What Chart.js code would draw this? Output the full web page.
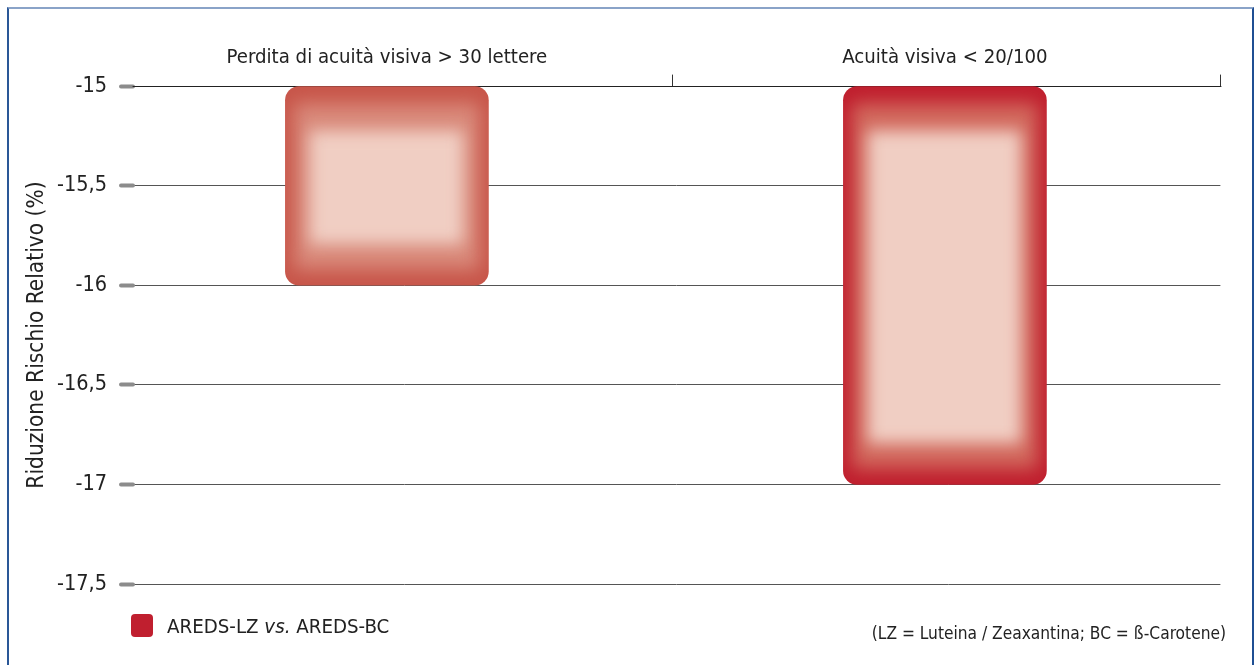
<!DOCTYPE html>
<html>
<head>
<meta charset="utf-8">
<script src="https://cdn.jsdelivr.net/npm/chart.js@4/dist/chart.umd.min.js"></script>
<style>
  html, body { margin: 0; padding: 0; background: #fff; }
  #wrap { position: relative; width: 1255px; height: 665px; overflow: hidden; background: #fff; }
  #frame { position: absolute; left: 7px; top: 7px; width: 1247px; height: 700px; box-sizing: border-box;
           border-left: 2px solid #2a5797; border-right: 2px solid #1f4f93; border-top: 2px solid #8aa3c8; }
  #cv { position: absolute; left: 0; top: 0; }
  .txt { position: absolute; font-family: 'DejaVu Sans Condensed', 'Liberation Sans Narrow', sans-serif; color: #222; white-space: nowrap; }
  #legbox { position: absolute; left: 131px; top: 614px; width: 22px; height: 23px; border-radius: 4px; background: #c01f2f; }
  #legtxt { left: 167px; top: 613px; font-size: 20.3px; line-height: 26px; }
  #note { right: 29px; top: 621px; font-size: 17.2px; line-height: 24px; }
</style>
</head>
<body>
<div id="wrap">
  <div id="frame"></div>
  <canvas id="cv" width="1255" height="665"></canvas>
  <div id="legbox"></div>
  <div id="legtxt" class="txt">AREDS-LZ <i>vs.</i> AREDS-BC</div>
  <div id="note" class="txt">(LZ = Luteina / Zeaxantina; BC = ß-Carotene)</div>
</div>
<script>
// ---- data ----
const categories = ['Perdita di acuità visiva > 30 lettere', 'Acuità visiva < 20/100'];
const values = [-16, -17];
const yTicks = [-15, -15.5, -16, -16.5, -17, -17.5];
const seriesLabel = 'AREDS-LZ vs. AREDS-BC';

// ---- style ----
const FONT = "'DejaVu Sans Condensed', 'Liberation Sans Narrow', sans-serif";
const edgeColors = ['#c8564a', '#c01f2e'];
const midColors = ['#d98a7b', '#d26a5e'];
const coreColor = '#f0cec3';
const Y_MIN = -17.5, Y_MAX = -15;
const X_MIN = -0.455, X_MAX = 1.493, X_SEP = 0.5125;

const glowPlugin = {
  id: 'glow',
  beforeDraw(chart) { chart.ctx.lineCap = 'round'; },
  afterDatasetsDraw(chart) {
    const ctx = chart.ctx;
    const meta = chart.getDatasetMeta(0);
    meta.data.forEach((bar, i) => {
      const p = bar.getProps(['x', 'y', 'base', 'width'], true);
      const left = p.x - p.width / 2;
      const top = Math.min(p.y, p.base);
      const h = Math.abs(p.base - p.y);
      const w = p.width;
      ctx.save();
      ctx.beginPath();
      ctx.roundRect(left, top, w, h, 14);
      ctx.clip();
      ctx.filter = 'blur(9px)';
      ctx.fillStyle = midColors[i % midColors.length];
      ctx.fillRect(left + 9, top + 17, w - 18, h - 33);
      ctx.filter = 'blur(8px)';
      ctx.fillStyle = coreColor;
      ctx.fillRect(left + 24, top + 44, w - 49, h - 85);
      ctx.restore();
    });
    ctx.lineCap = 'round';
  }
};

new Chart(document.getElementById('cv'), {
  type: 'bar',
  data: {
    datasets: [{
      label: seriesLabel,
      data: values.map((v, i) => ({ x: i, y: v })),
      base: Y_MAX,
      backgroundColor: edgeColors,
      borderWidth: 0,
      borderRadius: 14,
      borderSkipped: false,
      barThickness: 203
    }]
  },
  plugins: [glowPlugin],
  options: {
    responsive: false,
    animation: false,
    devicePixelRatio: 1,
    layout: { padding: { left: 0, top: 0, right: 35, bottom: 81 } },
    plugins: { legend: { display: false }, tooltip: { enabled: false } },
    scales: {
      x: {
        type: 'linear',
        position: 'top',
        min: X_MIN,
        max: X_MAX,
        offset: false,
        afterBuildTicks: (s) => { s.ticks = [0, X_SEP, 1, X_MAX].map(v => ({ value: v })); },
        afterFit: (s) => { s.height = 86; },
        ticks: {
          autoSkip: false,
          maxRotation: 0,
          padding: 5,
          color: '#222',
          font: { family: FONT, size: 20.2 },
          callback: (v) => Number.isInteger(v) ? categories[v] : ''
        },
        grid: {
          offset: false,
          drawOnChartArea: false,
          drawTicks: true,
          tickLength: 11,
          tickWidth: 1,
          tickColor: (c) => (c.tick && Number.isInteger(c.tick.value)) ? 'rgba(0,0,0,0)' : '#333'
        },
        border: { display: true, color: '#222', width: 1 }
      },
      y: {
        min: Y_MIN,
        max: Y_MAX,
        beginAtZero: false,
        afterBuildTicks: (s) => { s.ticks = yTicks.map(v => ({ value: v })); },
        afterFit: (s) => { s.width = 133; },
        ticks: {
          padding: 14,
          color: '#222',
          font: { family: FONT, size: 21.5 },
          callback: (v) => String(v).replace('.', ',')
        },
        grid: {
          color: (c) => (c.tick && c.tick.value === Y_MAX) ? '#222' : '#555',
          lineWidth: 1,
          drawTicks: true,
          tickLength: 12,
          tickWidth: 4,
          tickColor: '#8c8c8c'
        },
        border: { display: false },
        title: {
          display: true,
          text: 'Riduzione Rischio Relativo (%)',
          color: '#222',
          font: { family: FONT, size: 22.5 },
          padding: { top: 24, bottom: 0 }
        }
      }
    }
  }
});
</script>
</body>
</html>
